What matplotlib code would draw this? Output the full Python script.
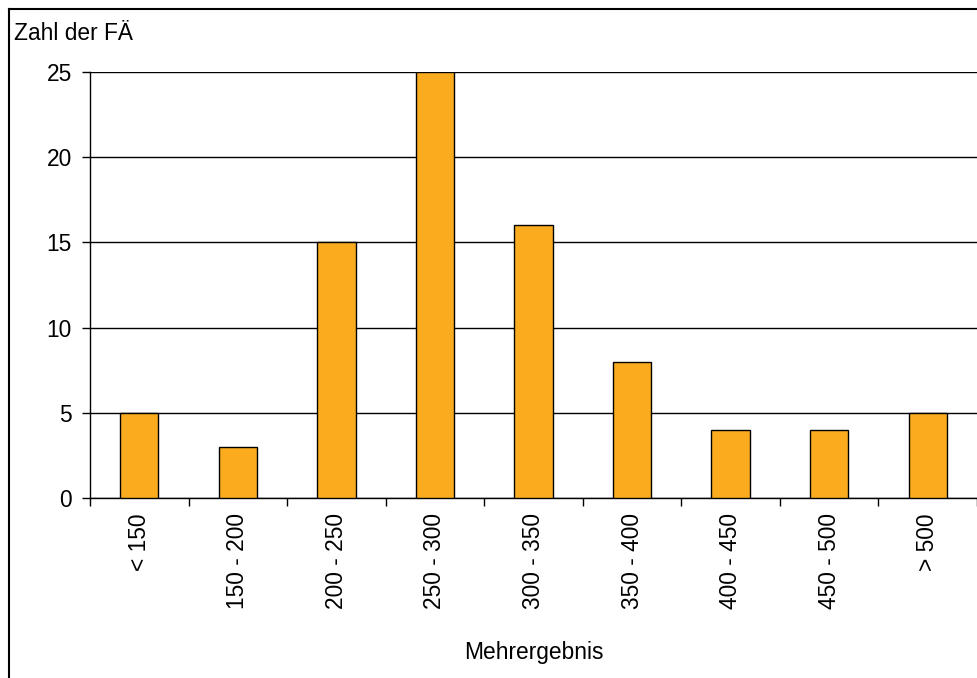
import matplotlib
matplotlib.use("Agg")
import matplotlib.pyplot as plt
from matplotlib.lines import Line2D
import numpy as np

categories = ["< 150", "150 - 200", "200 - 250", "250 - 300", "300 - 350",
              "350 - 400", "400 - 450", "450 - 500", "> 500"]
counts = [5, 3, 15, 25, 16, 8, 4, 4, 5]
yticks = [0, 5, 10, 15, 20, 25]

plt.rcParams['font.family'] = ['Liberation Sans', 'DejaVu Sans']
FS = 16.4

W, H = 978, 678
fig = plt.figure(figsize=(W / 100, H / 100), dpi=100)
ax = fig.add_axes([90 / W, 1 - 498 / H, (977 - 90) / W, (498 - 72) / H])

x = np.arange(len(categories))
ax.bar(x, counts, width=0.39, color='#FBAB1E', edgecolor='black', linewidth=1.0, zorder=3)

ax.set_xlim(-0.5, len(categories) - 0.5)
ax.set_ylim(0, 25)
ax.set_yticks(yticks)
ax.set_yticklabels([str(v) for v in yticks], fontsize=FS)
ax.yaxis.grid(True, color='black', linewidth=1.0, zorder=0)
ax.set_axisbelow(True)

ax.set_xticks(x)
ax.set_xticklabels(categories, rotation=90, fontsize=FS, va='top')
ax.set_xticks(np.arange(-0.5, len(categories)), minor=True)
ax.tick_params(axis='x', which='major', length=0, pad=11)
ax.tick_params(axis='x', which='minor', length=6, width=1, color='black', direction='out')
ax.tick_params(axis='y', length=6, width=1, pad=7, direction='out')

for s in ['top', 'right']:
    ax.spines[s].set_visible(False)
for s in ['left', 'bottom']:
    ax.spines[s].set_linewidth(1.0)
    ax.spines[s].set_color('black')

ax.set_xlabel("Mehrergebnis", fontsize=FS)
ax.xaxis.set_label_coords(0.5, -(659 - 498) / (498 - 72), transform=ax.transAxes)
ax.xaxis.label.set_va('baseline')

fig.text(14 / W, 1 - 40 / H, "Zahl der FÄ", fontsize=FS, ha='left', va='baseline')

# figure border (left and top)
fig.add_artist(Line2D([8.5 / W, 8.5 / W], [0, 1 - 8.5 / H], color='black', linewidth=1.5,
                      transform=fig.transFigure))
fig.add_artist(Line2D([8.5 / W, 1], [1 - 8.5 / H, 1 - 8.5 / H], color='black', linewidth=1.5,
                      transform=fig.transFigure))

fig.savefig("out.png", dpi=100)
